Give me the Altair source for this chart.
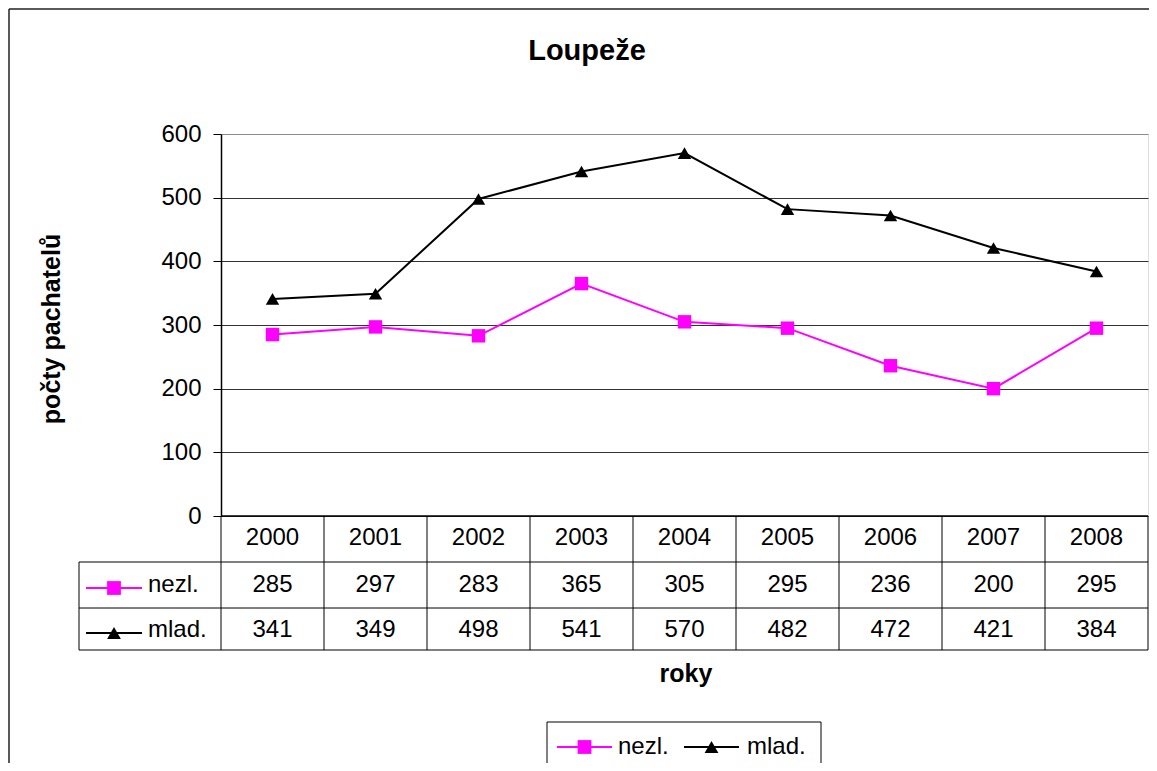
import altair as alt
import pandas as pd

# ---- data ----
years = [2000, 2001, 2002, 2003, 2004, 2005, 2006, 2007, 2008]
nezl = [285, 297, 283, 365, 305, 295, 236, 200, 295]
mlad = [341, 349, 498, 541, 570, 482, 472, 421, 384]
series_names = ["nezl.", "mlad."]
y_ticks = [0, 100, 200, 300, 400, 500, 600]
title_text = "Loupeže"
y_title = "počty pachatelů"
x_title = "roky"

W, H = 927, 382
FONT = "Liberation Sans"
MAGENTA = "#FF00FF"
FS = 24

long_df = pd.DataFrame({
    "year": years * 2,
    "value": nezl + mlad,
    "series": [series_names[0]] * len(years) + [series_names[1]] * len(years),
})
table_df = pd.DataFrame({"year": years, "nezl": nezl, "mlad": mlad})
one = pd.DataFrame({"k": [0]})

xscale = alt.Scale(type="band", paddingInner=0, paddingOuter=0)
X = alt.X("year:O", scale=xscale, axis=None)
Y = alt.Y(
    "value:Q",
    scale=alt.Scale(domain=[0, 600], nice=False),
    axis=alt.Axis(
        values=y_ticks, title=None, grid=True,
        gridColor=alt.condition("datum.value === 600", alt.value("#8c8c8c"), alt.value("#333333")),
        gridWidth=1, tickSize=8, tickColor="black", labelPadding=12,
        labelFontSize=FS, labelFont=FONT, labelColor="black",
        domainColor="black", domainWidth=1.5,
    ),
)
color = alt.Color("series:N", scale=alt.Scale(domain=series_names, range=[MAGENTA, "black"]), legend=None)
shape = alt.Shape("series:N", scale=alt.Scale(domain=series_names, range=["square", "triangle-up"]), legend=None)

lines = alt.Chart(long_df).mark_line(strokeWidth=2).encode(x=X, y=Y, color=color, detail="series:N")
points = alt.Chart(long_df).mark_point(filled=True, size=180, opacity=1).encode(x=X, y=Y, color=color, shape=shape)


def hline(x1, x2, y, col="black", w=1):
    return alt.Chart(one).mark_rule(color=col, strokeWidth=w).encode(
        x=alt.value(x1), x2=alt.value(x2), y=alt.value(y))


def vline(x, y1, y2, col="black", w=1):
    return alt.Chart(one).mark_rule(color=col, strokeWidth=w).encode(
        x=alt.value(x), y=alt.value(y1), y2=alt.value(y2))


def label(text, x, y, size=FS, bold=False, align="center", angle=0, baseline="middle"):
    return alt.Chart(one).mark_text(
        text=text, fontSize=size, font=FONT, fontWeight="bold" if bold else "normal",
        color="black", align=align, angle=angle, baseline=baseline,
    ).encode(x=alt.value(x), y=alt.value(y))


def key(x1, x2, y, col, shp, size=190):
    ln = hline(x1, x2, y, col=col, w=2)
    pt = alt.Chart(one).mark_point(filled=True, size=size, opacity=1, color=col, shape=shp).encode(
        x=alt.value((x1 + x2) / 2), y=alt.value(y))
    return ln + pt


# table geometry (view pixels)
T0, T1, T2, T3 = 382, 428, 474, 516
LX = -142

table_vlines = alt.Chart(table_df).mark_rule(color="black", strokeWidth=1).encode(
    x=alt.X("year:O", bandPosition=0, scale=xscale, axis=None),
    y=alt.value(T0), y2=alt.value(T3))
year_text = alt.Chart(table_df).mark_text(fontSize=FS, font=FONT, color="black").encode(
    x=X, y=alt.value(404), text="year:O")
nezl_text = alt.Chart(table_df).mark_text(fontSize=FS, font=FONT, color="black").encode(
    x=X, y=alt.value(451), text="nezl:Q")
mlad_text = alt.Chart(table_df).mark_text(fontSize=FS, font=FONT, color="black").encode(
    x=X, y=alt.value(496), text="mlad:Q")

deco = [
    hline(0, W, T0, w=1.5),
    hline(LX, W, T1), hline(LX, W, T2), hline(LX, W, T3),
    vline(LX, T1, T3), vline(W, T0, T3),
    key(-135, -79, 454, MAGENTA, "square"),
    key(-135, -79, 499, "black", "triangle-up"),
    label(series_names[0], -73, 451, align="left"),
    label(series_names[1], -73, 496, align="left"),
    # titles
    label(title_text, 366, -74, size=29, bold=True, baseline="alphabetic"),
    label(x_title, 465, 548, size=25, bold=True, baseline="alphabetic"),
    label(y_title, -169, 195, size=25, bold=True, angle=270),
    # bottom legend
    hline(326, 600, 588), hline(326, 600, 636), vline(326, 588, 636), vline(600, 588, 636),
    key(336, 391, 613, MAGENTA, "square"),
    key(463, 518, 613, "black", "triangle-up"),
    label(series_names[0], 397, 613, align="left"),
    label(series_names[1], 526, 613, align="left"),
    # outer chart border
    hline(-212, W + 1, -125, col="#222222", w=1.5),
    vline(-212, -125, 630, col="#222222", w=1.5),
]

chart = alt.layer(
    lines, points, table_vlines, year_text, nezl_text, mlad_text, *deco
).properties(
    width=W, height=H,
    autosize=alt.AutoSizeParams(type="none"),
    padding={"left": 213, "top": 126, "right": 1, "bottom": 247},
).configure_view(stroke="#8c8c8c", strokeWidth=1.5).configure(background="white")

chart.save("out.html", embed_options={"renderer": "svg", "actions": False})
